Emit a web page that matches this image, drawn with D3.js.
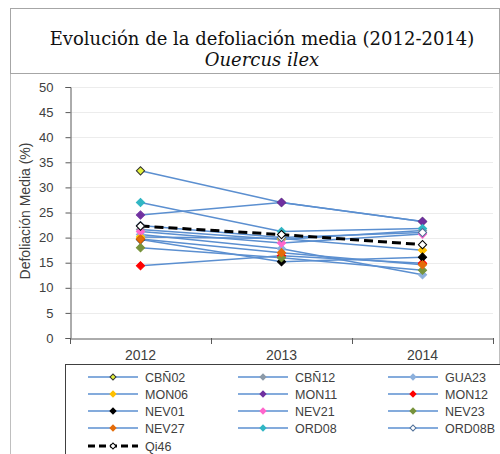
<!DOCTYPE html>
<html>
<head>
<meta charset="utf-8">
<script src="https://cdn.jsdelivr.net/npm/d3@7"></script>
<style>
  body { margin: 0; background: #fff; }
  svg text { font-family: "Liberation Sans", Arial, sans-serif; }
</style>
</head>
<body>
<svg id="chart" width="500" height="454"></svg>
<script>
// -------------------- DATA -------------------- //
const years = ["2012", "2013", "2014"];
const yTicks = [0, 5, 10, 15, 20, 25, 30, 35, 40, 45, 50];

const seriesNames = ["CBÑ02", "CBÑ12", "GUA23", "MON06", "MON11", "MON12",
                     "NEV01", "NEV21", "NEV23", "NEV27", "ORD08", "ORD08B", "Qi46"];

const cbn02  = [33.3, 27.0, 23.2];
const cbn12  = [21.6, 19.6, 21.4];
const gua23  = [20.6, 17.8, 12.6];
const mon06  = [20.1, 19.8, 17.5];
const mon11  = [24.5, 27.0, 23.2];
const mon12  = [14.4, 16.4, 14.9];
const nev01  = [19.6, 15.2, 16.1];
const nev21  = [21.2, 18.9, 20.7];
const nev23  = [18.0, 16.0, 13.5];
const nev27  = [19.7, 17.0, 14.6];
const ord08  = [27.0, 21.2, 21.8];
const ord08b = [22.4, 20.0, 21.0];
const qi46   = [22.3, 20.6, 18.6];

// -------------------- SETUP -------------------- //
const seriesValues = [cbn02, cbn12, gua23, mon06, mon11, mon12,
                      nev01, nev21, nev23, nev27, ord08, ord08b, qi46];
// marker fill / stroke for each series
const markerFill = ["#e2f03a", "#8c9aa8", "#8db0dc", "#ffc000", "#7030a0", "#ff0000",
                    "#000000", "#ff66cc", "#77933c", "#e46c0a", "#31b6c4", "#ffffff", "#ffffff"];
const markerStroke = ["#333333", "#8c9aa8", "#8db0dc", "#ffc000", "#7030a0", "#ff0000",
                      "#000000", "#ff66cc", "#77933c", "#e46c0a", "#31b6c4", "#4f6f98", "#000000"];

const series = seriesNames.map((name, i) => ({
    name: name,
    values: seriesValues[i],
    fill: markerFill[i],
    stroke: markerStroke[i],
    dashed: name === "Qi46"
}));

const svg = d3.select("#chart");
const lineColor = "#5b8fd0";

// outer frame + title box
svg.append("rect").attr("x", 10.5).attr("y", 8.5).attr("width", 489).attr("height", 450)
    .attr("fill", "none").attr("stroke", "#bfbfbf");
svg.append("rect").attr("x", 10.5).attr("y", 8.5).attr("width", 489).attr("height", 65)
    .attr("fill", "none").attr("stroke", "#a6a6a6");

svg.append("text").attr("x", 262).attr("y", 45).attr("text-anchor", "middle")
    .style("font-family", "'DejaVu Serif', 'Liberation Serif', serif").style("font-size", "18px")
    .attr("fill", "#111")
    .text("Evolución de la defoliación media (2012-2014)");
svg.append("text").attr("x", 262).attr("y", 66).attr("text-anchor", "middle")
    .style("font-family", "'DejaVu Serif', 'Liberation Serif', serif").style("font-size", "18px")
    .style("font-style", "italic").attr("fill", "#111")
    .text("Ouercus ilex");

// -------------------- SCALES -------------------- //
const x = d3.scaleBand().domain(years).range([70, 493]).padding(0);
const y = d3.scaleLinear().domain([0, 50]).range([338, 87]);
const cx = d => x(d) + x.bandwidth() / 2;

// grid
svg.append("g").selectAll("line").data(yTicks.slice(1)).join("line")
    .attr("x1", 70).attr("x2", 493)
    .attr("y1", d => Math.round(y(d)) + 0.5).attr("y2", d => Math.round(y(d)) + 0.5)
    .attr("stroke", "#ececec");

// axes
const yAxis = svg.append("g").attr("transform", "translate(70.5,0)")
    .call(d3.axisLeft(y).tickValues(yTicks).tickSize(5).tickPadding(12));
const xAxis = svg.append("g").attr("transform", "translate(0,338.5)")
    .call(d3.axisBottom(x).tickSize(0).tickPadding(12));
// tick marks at category boundaries
svg.append("g").selectAll("line").data(years.concat(["end"])).join("line")
    .attr("x1", (d, i) => Math.round(70 + i * x.bandwidth()) + 0.5)
    .attr("x2", (d, i) => Math.round(70 + i * x.bandwidth()) + 0.5)
    .attr("y1", 338).attr("y2", 344).attr("stroke", "#595959");

[yAxis, xAxis].forEach(a => {
    a.select(".domain").attr("stroke", "#595959");
    a.selectAll(".tick line").attr("stroke", "#595959");
    a.selectAll("text").attr("fill", "#404040");
});
yAxis.selectAll("text").style("font-size", "13px");
xAxis.selectAll("text").style("font-size", "14px");

svg.append("text")
    .attr("transform", "translate(30,211) rotate(-90)")
    .attr("text-anchor", "middle").style("font-size", "14px").attr("fill", "#404040")
    .text("Defoliación Media (%)");

// -------------------- LINES + MARKERS -------------------- //
const line = d3.line().x((d, i) => cx(years[i])).y(d => y(d));
const diamond = d3.symbol().type(d3.symbolSquare).size(34);

const plot = svg.append("g");
series.forEach(s => {
    plot.append("path").datum(s.values).attr("d", line)
        .attr("fill", "none")
        .attr("stroke", s.dashed ? "#000" : lineColor)
        .attr("stroke-width", s.dashed ? 3 : 1.5)
        .attr("stroke-dasharray", s.dashed ? "9,5" : null);
});
series.forEach(s => {
    plot.selectAll(null).data(s.values).join("path")
        .attr("d", diamond)
        .attr("transform", (d, i) => `translate(${cx(years[i])},${y(d)}) rotate(45)`)
        .attr("fill", s.fill).attr("stroke", s.stroke).attr("stroke-width", 1);
});

// -------------------- LEGEND -------------------- //
const legend = svg.append("g");
legend.append("rect").attr("x", 65.5).attr("y", 364.5).attr("width", 440).attr("height", 100)
    .attr("fill", "#fff").attr("stroke", "#404040");

const colX = [88, 238, 388];
const rowY = [377, 394, 411, 428, 446];
const legendMark = d3.symbol().type(d3.symbolSquare).size(18);
series.forEach((s, i) => {
    const lx = colX[i % 3];
    const ly = rowY[Math.floor(i / 3)];
    const g = legend.append("g").attr("transform", `translate(${lx},${ly})`);
    g.append("line").attr("x1", 0).attr("x2", 50).attr("y1", 0).attr("y2", 0)
        .attr("stroke", s.dashed ? "#000" : lineColor)
        .attr("stroke-width", s.dashed ? 3 : 1.5)
        .attr("stroke-dasharray", s.dashed ? "7,4" : null);
    g.append("path").attr("d", legendMark).attr("transform", "translate(25,0) rotate(45)")
        .attr("fill", s.fill).attr("stroke", s.stroke);
    g.append("text").attr("x", 57).attr("y", 4.5)
        .style("font-size", "12.5px")
        .attr("fill", "#404040").text(s.name);
});
</script>
</body>
</html>
